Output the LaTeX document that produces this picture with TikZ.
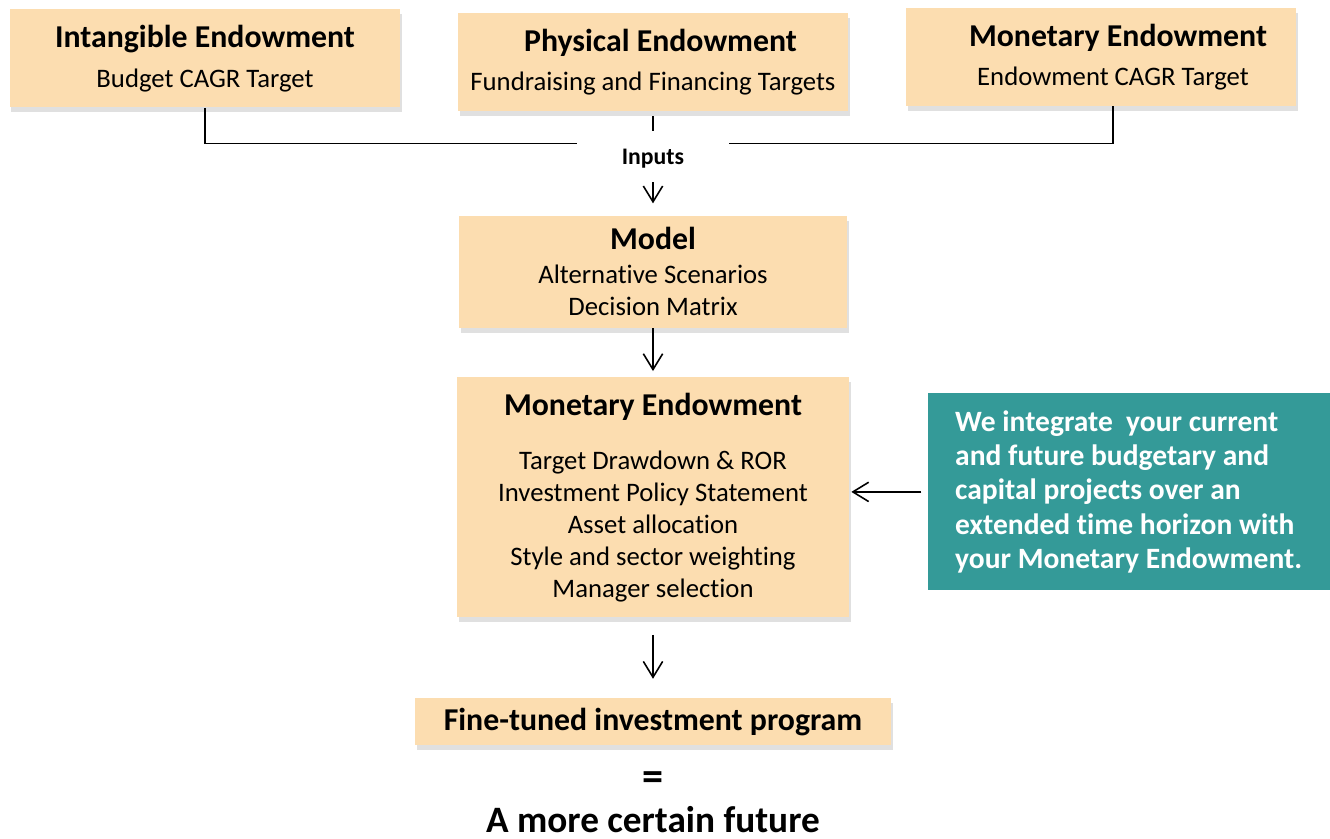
\documentclass[tikz,border=0pt]{standalone}
\usepackage{fontspec}
\setmainfont{Carlito}[Ligatures=NoCommon]
\usepackage{tikz}
\usepackage{xcolor}
\usetikzlibrary{arrows.meta, positioning, shadows}
\definecolor{peach}{RGB}{252,221,176}
\definecolor{tealbox}{RGB}{52,154,152}
\newcommand{\headfont}{\fontsize{18.1pt}{21pt}\selectfont\bfseries}
\tikzstyle{endow} = [rectangle, minimum width=7.8cm, minimum height=1.96cm, text width=7.4cm, align=flush center, fill=peach, drop shadow={shadow xshift=0.03cm, shadow yshift=-0.1cm, fill=black!40, opacity=0.3}]
\tikzstyle{note} = [rectangle, minimum width=8.04cm, minimum height=3.94cm, inner xsep=0.55cm, align=flush left, fill=tealbox, text=white, font={\fontsize{16.8pt}{19.4pt}\selectfont\bfseries}]
\tikzstyle{line} = [line width=0.9pt]
\tikzstyle{arrow} = [line width=0.9pt, -{Straight Barb[length=9pt, width=11pt]}]
\tikzset{
  font={\fontsize{15.2pt}{18.2pt}\selectfont}}

\begin{document}
\begin{tikzpicture}[node distance = 8.96cm]
    \useasboundingbox (0,0) rectangle (26.6,-16.78);
    \node (physical) [endow] at (13.06,-1.24) {{\headfont\hspace*{0.3cm}Physical Endowment}\\[4.2pt] Fundraising and Financing Targets};
    \node (intangible) [endow, left of=physical, yshift=0.07cm] {{\headfont Intangible Endowment}\\[4.2pt] Budget CAGR Target};
    \node (monetary) [endow, right of=physical, yshift=0.1cm] {{\headfont\hspace*{0.68cm}Monetary Endowment}\\[4.2pt]\hspace*{0.48cm}Endowment CAGR Target};
    \node (inputs) [minimum width=3.04cm, font={\fontsize{13.5pt}{15pt}\selectfont\bfseries}] at ([yshift=-0.94cm]physical.south) {Inputs};
    \node (model) [endow, below=2.08cm of physical, minimum width=7.76cm, minimum height=2.24cm] {{\headfont Model}\\[1.4pt] Alternative Scenarios\\ Decision Matrix};
    \node (money) [endow, below=0.98cm of model, minimum width=7.84cm, minimum height=4.8cm] {{\headfont Monetary Endowment}\\[12.5pt] Target Drawdown \& ROR\\ Investment Policy Statement\\ Asset allocation\\ Style and sector weighting\\ Manager selection};
    \node (finetuned) [endow, below=1.6cm of money, minimum width=9.52cm, minimum height=0.94cm, text width=9cm] {\headfont Fine-tuned investment program};
    \node (integrate) [note, right=1.56cm of money, yshift=0.11cm] {We integrate\ \ your current\\ and future budgetary and\\ capital projects over an\\ extended time horizon with\\ your Monetary Endowment.};
    \node (equals) [font={\fontsize{24pt}{26pt}\selectfont\bfseries}] at ([yshift=-0.72cm]finetuned.south) {=};
    \node (future) [anchor=base, inner sep=0pt, font={\fontsize{21.2pt}{25pt}\selectfont\bfseries}] at ([yshift=-1.74cm]finetuned.south) {A more certain future};

    % inputs gathering
    \draw [line] (intangible.south) |- ([yshift=0.3cm]inputs.west);
    \draw [line] ([xshift=0.24cm]monetary.south) |- ([yshift=0.3cm]inputs.east);
    \draw [line] ([yshift=-0.1cm]physical.south) -- ([yshift=-0.4cm]physical.south);

    \draw [arrow] ([yshift=-0.48cm]inputs.center) -- ([yshift=0.24cm]model.north);
    \draw [arrow, shorten >=0.12cm] (model) -- (money);
    \draw [arrow, shorten <=0.34cm, shorten >=0.38cm] (money) -- (finetuned);
    \draw [arrow, shorten <=0.12cm, shorten >=0.04cm] (integrate.west) -- (integrate.west -| money.east);
\end{tikzpicture}
\end{document}
